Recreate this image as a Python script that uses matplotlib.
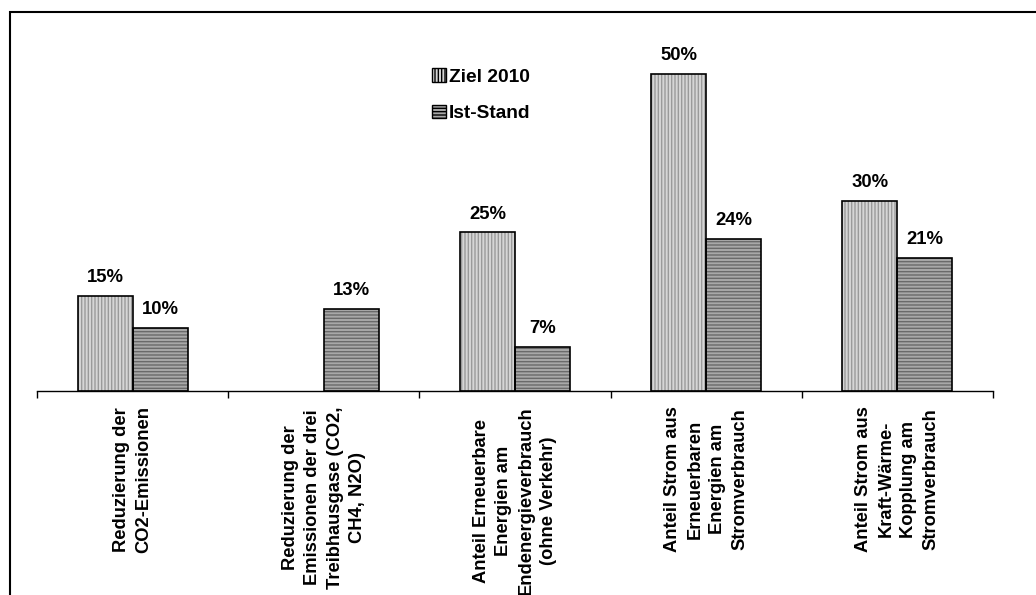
import matplotlib
matplotlib.use("Agg")
import matplotlib.pyplot as plt
import matplotlib.patches as mpatches
import numpy as np

plt.rcParams['font.family'] = ['Liberation Sans', 'DejaVu Sans']
plt.rcParams['hatch.linewidth'] = 1.0

# Zielwerte und Ist-Stand (in Prozent)
kategorien = [
    "Reduzierung der\nCO2-Emissionen",
    "Reduzierung der\nEmissionen der drei\nTreibhausgase (CO2,\nCH4, N2O)",
    "Anteil Erneuerbare\nEnergien am\nEndenergieverbrauch\n(ohne Verkehr)",
    "Anteil Strom aus\nErneuerbaren\nEnergien am\nStromverbrauch",
    "Anteil Strom aus\nKraft-Wärme-\nKopplung am\nStromverbrauch",
]
ziel_2010 = [15, None, 25, 50, 30]
ist_stand = [10, 13, 7, 24, 21]
serien = ["Ziel 2010", "Ist-Stand"]

fig = plt.figure(figsize=(10.36, 5.95), dpi=100)
ax = fig.add_axes([37 / 1036, 1 - 391 / 595, 956 / 1036, 349 / 595])

# Rahmen um die Grafik (rechts/unten abgeschnitten)
rahmen = mpatches.Rectangle((9.5 / 1036, -0.1), 1.2, 1.1 - 12.5 / 595,
                            transform=fig.transFigure, fill=False,
                            edgecolor='black', linewidth=1.5, zorder=10)
fig.patches.append(rahmen)

x = np.arange(len(kategorien))
breite = 0.288

def balken(pos, werte, farbe, schraffur, schraffurfarbe):
    pos_ok = [p for p, w in zip(pos, werte) if w is not None]
    w_ok = [w for w in werte if w is not None]
    ax.bar(pos_ok, w_ok, breite, color=farbe, edgecolor=schraffurfarbe,
           hatch=schraffur, linewidth=0, zorder=2)
    rects = ax.bar(pos_ok, w_ok, breite, fill=False, edgecolor='black',
                   linewidth=1.2, zorder=3)
    for r, w in zip(rects, w_ok):
        ax.annotate(f"{w}%", (r.get_x() + r.get_width() / 2, w),
                    xytext=(0, 7), textcoords='offset points',
                    ha='center', va='bottom', fontsize=13.3, fontweight='bold')

balken(x - breite / 2, ziel_2010, '#d6d6d6', '|||||', '#9a9a9a')
balken(x + breite / 2, ist_stand, '#a8a8a8', '-----', '#6a6a6a')

ax.set_xlim(-0.5, len(kategorien) - 0.5)
ax.set_ylim(0, 55)
for s in ['top', 'right', 'left']:
    ax.spines[s].set_visible(False)
ax.spines['bottom'].set_linewidth(1.0)
ax.set_yticks([])
ax.set_xticks(np.arange(-0.5, len(kategorien)))
ax.set_xticklabels([])
ax.tick_params(axis='x', direction='out', length=5, width=1.0)

for i, k in enumerate(kategorien):
    ax.text(i, -2.4, k, rotation=90, ha='center', va='top',
            multialignment='center', fontsize=13.2, fontweight='bold',
            linespacing=1.42)

# Legende
h1 = mpatches.Patch(facecolor='#d6d6d6', edgecolor='black', hatch='|||||')
h2 = mpatches.Patch(facecolor='#a8a8a8', edgecolor='black', hatch='-----')
fig.legend([h1, h2], serien, loc='upper left',
           bbox_to_anchor=(419 / 1036, 1 - 55 / 595), frameon=False,
           prop={'size': 13.8, 'weight': 'bold'}, handlelength=0.7,
           handleheight=0.68, handletextpad=0.15, labelspacing=1.0,
           borderpad=0.2)

fig.savefig("out.png", dpi=100)
